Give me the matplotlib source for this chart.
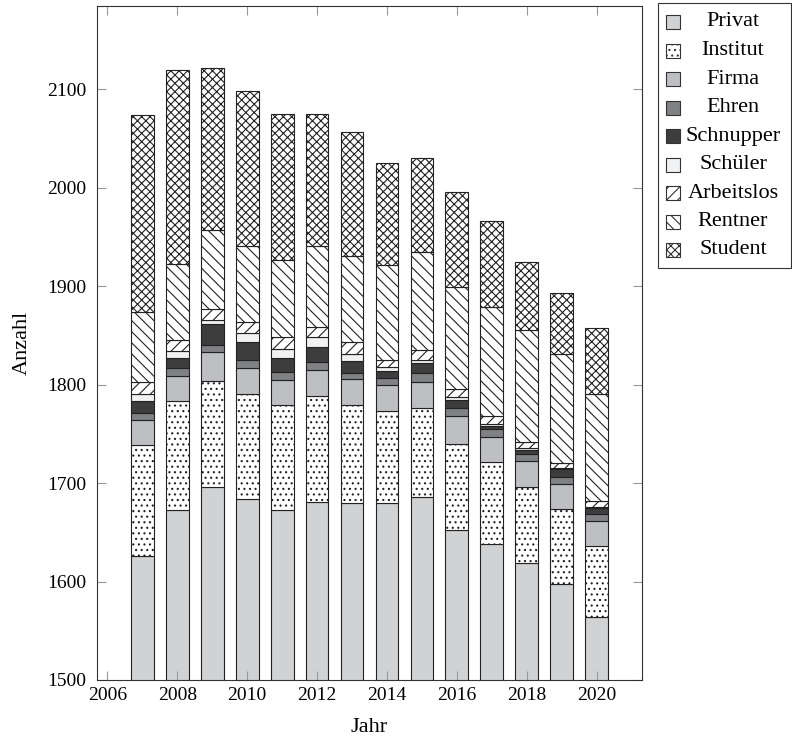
import matplotlib
matplotlib.use("Agg")
import matplotlib.pyplot as plt
from matplotlib.patches import Rectangle
import numpy as np

plt.rcParams["font.family"] = ["Liberation Serif", "DejaVu Serif"]
plt.rcParams["hatch.linewidth"] = 0.8

years = [2007, 2008, 2009, 2010, 2011, 2012, 2013, 2014, 2015, 2016, 2017, 2018, 2019, 2020]

categories = ["Privat", "Institut", "Firma", "Ehren", "Schnupper", "Schüler", "Arbeitslos", "Rentner", "Student"]

privat = [1626, 1673, 1696, 1684, 1673, 1681, 1680, 1680, 1686, 1652, 1638, 1619, 1598, 1564]
institut = [113, 110, 108, 107, 106, 107, 99, 93, 90, 88, 83, 77, 76, 72]
firma = [25, 26, 29, 26, 26, 27, 27, 27, 27, 28, 26, 26, 25, 26]
ehren = [7, 8, 7, 8, 8, 8, 6, 7, 9, 8, 8, 8, 7, 7]
schnupper = [12, 10, 22, 18, 14, 15, 12, 7, 10, 8, 3, 4, 8, 6]
schueler = [8, 7, 4, 9, 9, 10, 7, 4, 3, 3, 2, 2, 1, 1]
arbeitslos = [12, 11, 11, 12, 12, 11, 12, 7, 10, 9, 8, 6, 5, 6]
rentner = [71, 78, 80, 77, 79, 82, 88, 97, 100, 103, 111, 114, 111, 109]
student = [200, 197, 165, 157, 148, 134, 126, 103, 95, 97, 87, 69, 62, 67]

series = [privat, institut, firma, ehren, schnupper, schueler, arbeitslos, rentner, student]

styles = {
    "Privat": dict(color="#d1d2d4", hatch=None),
    "Institut": dict(color="white", hatch="..."),
    "Firma": dict(color="#bebfc3", hatch=None),
    "Ehren": dict(color="#808185", hatch=None),
    "Schnupper": dict(color="#3d3d3d", hatch=None),
    "Schüler": dict(color="#f0f1f3", hatch=None),
    "Arbeitslos": dict(color="white", hatch="///"),
    "Rentner": dict(color="white", hatch="\\\\\\"),
    "Student": dict(color="white", hatch="xxxx"),
}

fig = plt.figure(figsize=(7.92, 7.47), dpi=100)
ax = fig.add_axes([97 / 792, 1 - 680 / 747, 545 / 792, 674.3 / 747])

bottom = np.zeros(len(years))
for name, vals in zip(categories, series):
    st = styles[name]
    ax.bar(years, vals, bottom=bottom, width=0.65, color=st["color"], hatch=st["hatch"],
           edgecolor="#222222", linewidth=0.8, label=name)
    bottom += np.array(vals)

ax.set_xlim(2005.7, 2021.3)
ax.set_ylim(1500, 2185)
ax.set_xticks(range(2006, 2021, 2))
ax.set_yticks(range(1500, 2101, 100))
ax.tick_params(direction="in", top=True, right=True, length=6.5, width=0.8,
               color="#999999", labelsize=14)
ax.tick_params(axis="x", pad=5)
ax.tick_params(axis="y", pad=8)
for s in ax.spines.values():
    s.set_color("#333333")
    s.set_linewidth(0.8)

ax.set_xlabel("Jahr", fontsize=16, labelpad=10)
ax.set_ylabel("Anzahl", fontsize=16, labelpad=11)

# legend drawn by hand so the texts can be centred like in pgfplots
lax = fig.add_axes([657 / 792, 1 - 268 / 747, 134 / 792, 266 / 747])
lax.set_xlim(0, 134)
lax.set_ylim(266, 0)
lax.axis("off")
lax.add_patch(Rectangle((0.5, 0.5), 133, 265, facecolor="white", edgecolor="#333333",
                        linewidth=0.8, clip_on=False))
for i, name in enumerate(categories):
    st = styles[name]
    yc = 20 + 28.5 * i
    lax.add_patch(Rectangle((8.5, yc - 7), 14, 14, facecolor=st["color"], hatch=st["hatch"],
                            edgecolor="#333333", linewidth=0.8))
    lax.text(76, yc, name, fontsize=16, ha="center", va="center")

fig.savefig("out.png", dpi=100)
